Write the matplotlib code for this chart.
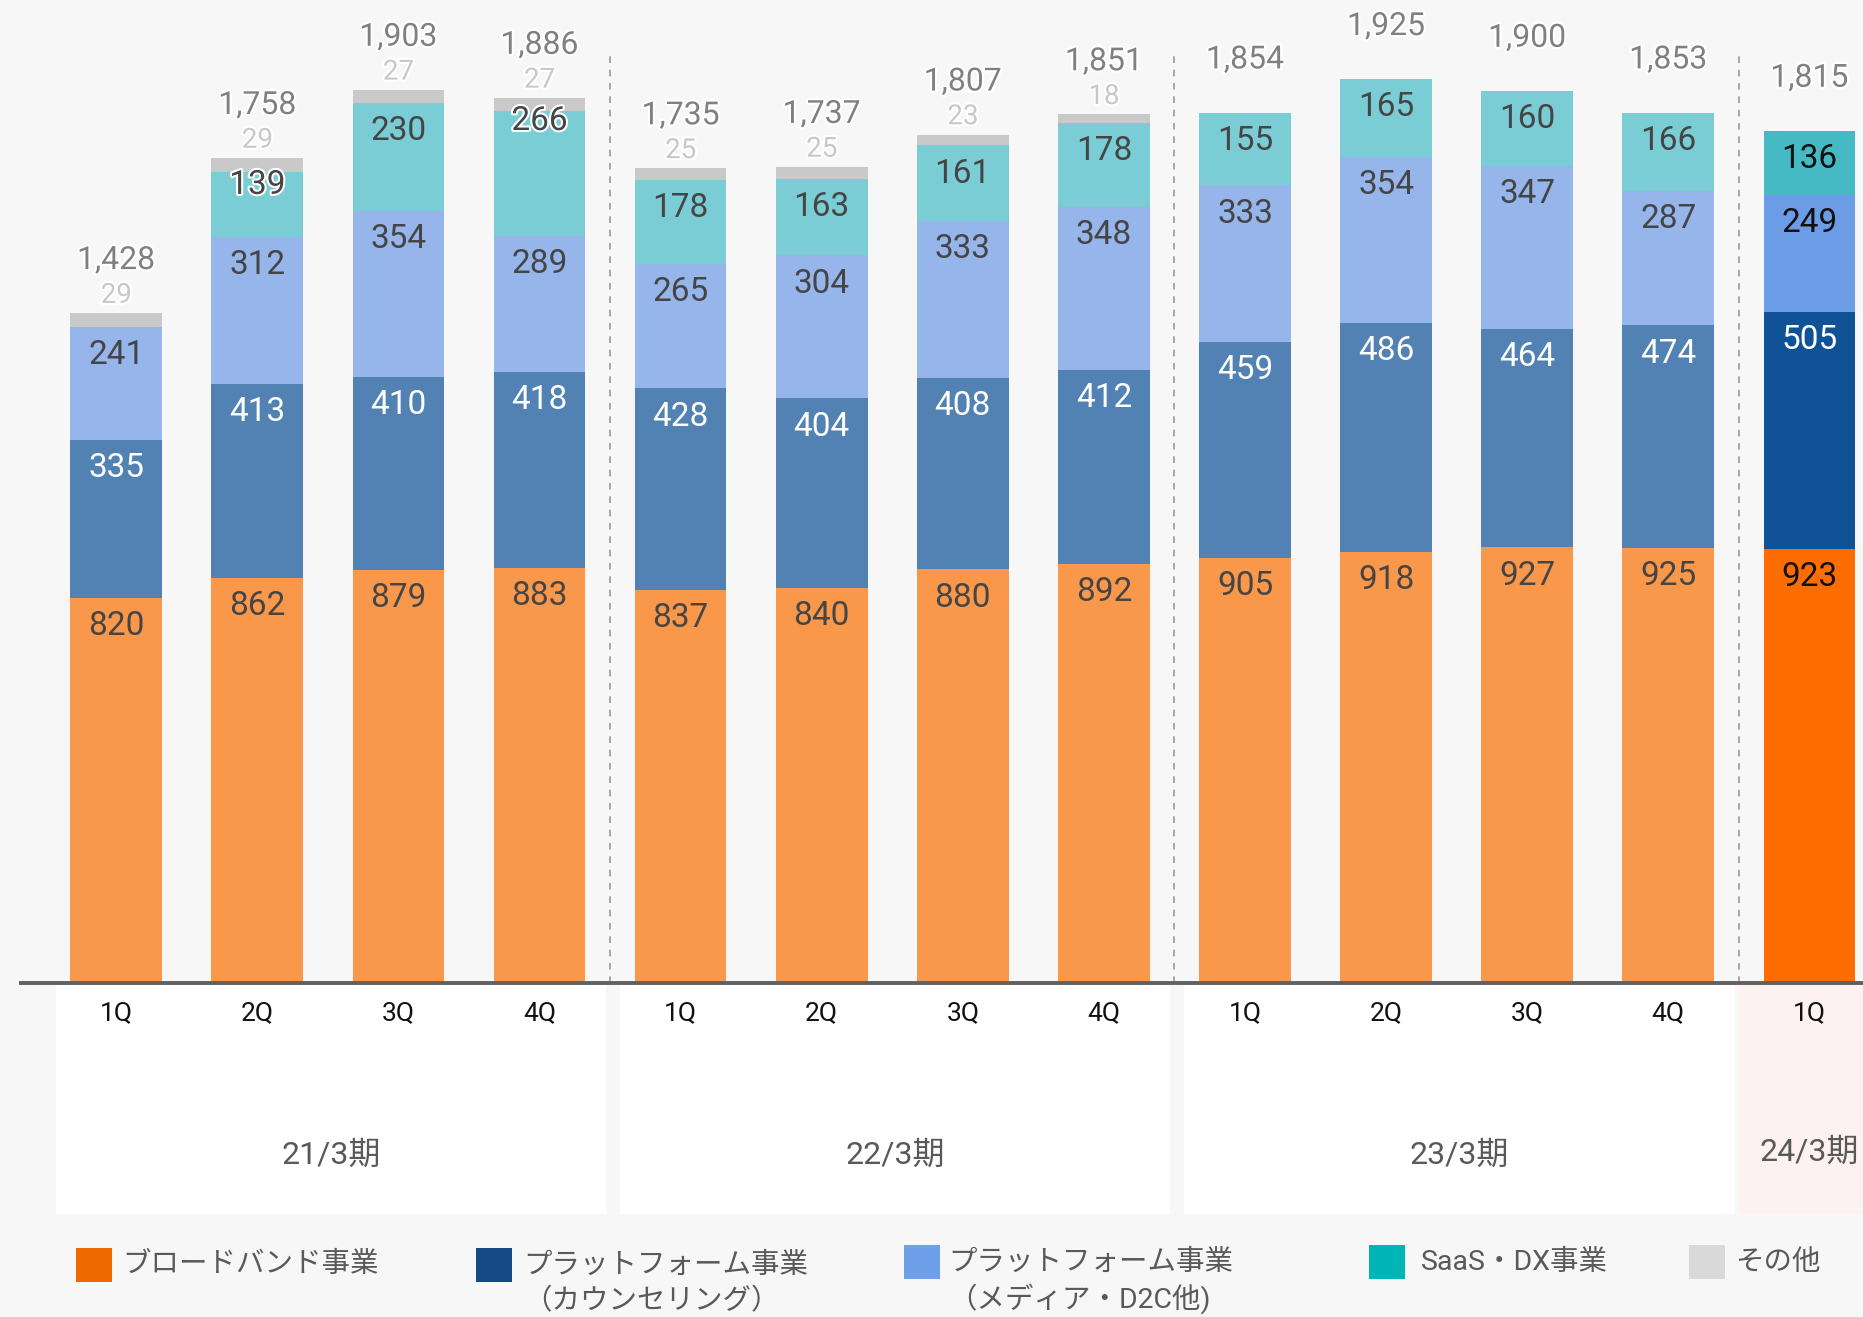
import matplotlib
matplotlib.use("Agg")
import matplotlib.pyplot as plt
import matplotlib.patheffects as pe
from matplotlib.patches import Rectangle
import numpy as np

plt.rcParams['font.family'] = ['Roboto', 'Noto Sans CJK JP', 'DejaVu Sans']

# 四半期売上（百万円）
quarters = ['1Q', '2Q', '3Q', '4Q'] * 3 + ['1Q']
periods = ['21/3期', '22/3期', '23/3期', '24/3期']
broadband = [820, 862, 879, 883, 837, 840, 880, 892, 905, 918, 927, 925, 923]
counseling = [335, 413, 410, 418, 428, 404, 408, 412, 459, 486, 464, 474, 505]
media = [241, 312, 354, 289, 265, 304, 333, 348, 333, 354, 347, 287, 249]
saas = [0, 139, 230, 266, 178, 163, 161, 178, 155, 165, 160, 166, 136]
other = [29, 29, 27, 27, 25, 25, 23, 18, 0, 0, 0, 0, 0]
totals = [1428, 1758, 1903, 1886, 1735, 1737, 1807, 1851, 1854, 1925, 1900, 1853, 1815]
legend_labels = ['ブロードバンド事業', 'プラットフォーム事業\n（カウンセリング）',
                 'プラットフォーム事業\n（メディア・D2C他)', 'SaaS・DX事業', 'その他']

series = [broadband, counseling, media, saas, other]
past_colors = ['#F9974B', '#5282B3', '#95B5EB', '#7ACDD4', '#C9C9C9']
cur_colors = ['#FF6D00', '#0F5296', '#6D9CE6', '#45B9C4', '#C9C9C9']
legend_colors = ['#F06800', '#164A84', '#6E9FE8', '#00B5B6', '#D9D9D9']
past_txt = ['#454545', 'white', '#454545', '#454545']
cur_txt = ['#111111', 'white', '#111111', '#111111']

W, H = 1863, 1317
fig = plt.figure(figsize=(W / 100, H / 100), dpi=100)
fig.patch.set_facecolor('#F7F7F7')

base_px = 983
ymax = base_px / 0.47
ax = fig.add_axes([21 / W, (H - base_px) / H, (W - 21) / W, base_px / H])
ax.set_facecolor('#F7F7F7')
ax.set_xlim(-0.675, 12.38)
ax.set_ylim(0, ymax)
for s in ['top', 'right', 'left']:
    ax.spines[s].set_visible(False)
ax.spines['bottom'].set_color('#606060')
ax.spines['bottom'].set_linewidth(2.8)
ax.spines['bottom'].set_zorder(5)
ax.set_xticks([])
ax.set_yticks([])

n = len(totals)
x = np.arange(n)
stroke = [pe.withStroke(linewidth=3, foreground='white')]
nudge = {(3, 1): 28, (3, 3): 22}

bottom = np.zeros(n)
for k, vals in enumerate(series):
    vals = np.array(vals, dtype=float)
    cols = [cur_colors[k] if i == n - 1 else past_colors[k] for i in range(n)]
    ax.bar(x, vals, 0.65, bottom=bottom, color=cols, linewidth=0, zorder=3)
    top = bottom + vals
    for i in range(n):
        if vals[i] == 0:
            continue
        if k < 4:
            off = nudge.get((k, i), 60)
            c = cur_txt[k] if i == n - 1 else past_txt[k]
            t = ax.text(x[i], top[i] - off, f'{int(vals[i])}', ha='center', va='center',
                        fontsize=24, color=c, zorder=6)
            if (k, i) in nudge:
                t.set_path_effects(stroke)
        else:
            ax.text(x[i], top[i] + 38, f'{int(vals[i])}', ha='center', va='center',
                    fontsize=20, color='#C8C8C8', zorder=6, path_effects=stroke)
    bottom = top

for i in range(n):
    ax.text(x[i], bottom[i] + 112, f'{totals[i]:,}', ha='center', va='center',
            fontsize=23, color='#808080', zorder=6, path_effects=stroke)

# 期の区切り線
for xs in [3.5, 7.5, 11.5]:
    ax.plot([xs, xs], [0, 1975], ls=(0, (4, 4)), color='#9A9A9A', lw=1.2, zorder=2)

# 下段の期ごとの枠
panel_bottom = -(1214 - base_px) / 0.47
groups = [(0, 3), (4, 7), (8, 11)]
for (s, e), lab in zip(groups, periods[:3]):
    ax.add_patch(Rectangle((s - 0.43, panel_bottom), e - s + 0.9, -panel_bottom,
                           facecolor='white', edgecolor='none', clip_on=False, zorder=1))
    ax.text((s - 0.43 + e + 0.47) / 2, -366, lab, ha='center', va='center',
            fontsize=23, color='#595959', clip_on=False)
ax.add_patch(Rectangle((11.5, panel_bottom), 1.0, -panel_bottom,
                       facecolor='#FDF1F1', edgecolor='none', clip_on=False, zorder=1))
ax.text(12, -360, periods[3], ha='center', va='center', fontsize=23,
        color='#595959', clip_on=False)

for i, q in enumerate(quarters):
    ax.text(x[i], -64, q, ha='center', va='center', fontsize=19,
            color='#111111', clip_on=False)

# 凡例
sq_x = [76, 476, 904, 1369, 1689]
tx_x = [122, 523, 948, 1421, 1735]
for j, (lab, col) in enumerate(zip(legend_labels, legend_colors)):
    yc = 1265 if j < 2 else 1262
    fig.add_artist(Rectangle((sq_x[j] / W, (H - yc - 17) / H), 36 / W, 34 / H,
                             transform=fig.transFigure, facecolor=col, edgecolor='none'))
    for r, line in enumerate(lab.split('\n')):
        fig.text(tx_x[j] / W, (H - (yc + r * 37)) / H, line, ha='left', va='center',
                 fontsize=20.5, color='#595959')

fig.savefig('out.png', dpi=100, facecolor=fig.get_facecolor())
